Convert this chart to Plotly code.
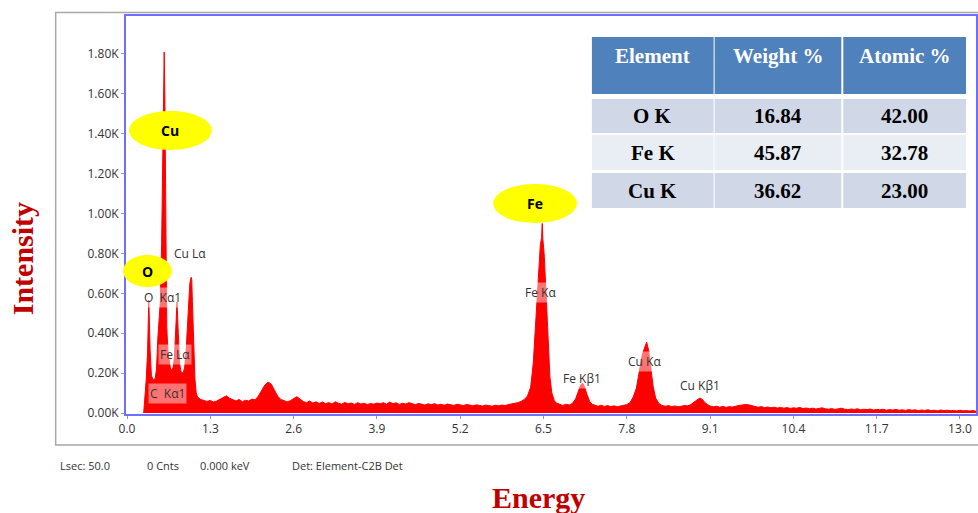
import plotly.graph_objects as go

# ---- EDS spectrum (energy in keV, intensity in counts), by region ----
# L-line cluster (O, Cu L, Fe L)
low_e = [0.26, 0.28, 0.30, 0.32, 0.34, 0.36, 0.38, 0.40, 0.42, 0.44,
         0.46, 0.48, 0.50, 0.52, 0.54, 0.56, 0.57, 0.58, 0.59, 0.60,
         0.62, 0.64, 0.66, 0.68, 0.70, 0.72, 0.74, 0.76, 0.78, 0.80,
         0.82, 0.84, 0.86, 0.88, 0.90, 0.92, 0.94, 0.96, 0.98, 1.00,
         1.01, 1.02, 1.04, 1.06, 1.08]
low_c = [0, 80, 170, 300, 566, 320, 190, 170, 165, 175,
         220, 370, 450, 560, 850, 1350, 1750, 1810, 1600, 1100,
         430, 300, 250, 220, 215, 230, 280, 420, 556, 400,
         250, 210, 200, 205, 230, 300, 430, 570, 650, 680,
         670, 560, 330, 170, 100]

# background 1.1 - 6.2 keV (incl. the small 2.2 keV bump)
mid_e = [1.10, 1.15, 1.20, 1.25, 1.30, 1.35, 1.40, 1.45, 1.50, 1.55,
         1.60, 1.65, 1.70, 1.75, 1.80, 1.85, 1.90, 1.95, 2.00, 2.05,
         2.10, 2.15, 2.20, 2.25, 2.30, 2.35, 2.40, 2.45, 2.50, 2.55,
         2.60, 2.65, 2.70, 2.75, 2.80, 2.85, 2.90, 2.95, 3.00, 3.05,
         3.10, 3.15, 3.20, 3.25, 3.30, 3.35, 3.40, 3.45, 3.50, 3.55,
         3.60, 3.65, 3.70, 3.75, 3.80, 3.85, 3.90, 3.95, 4.00, 4.05,
         4.10, 4.15, 4.20, 4.25, 4.30, 4.35, 4.40, 4.45, 4.50, 4.55,
         4.60, 4.65, 4.70, 4.75, 4.80, 4.85, 4.90, 4.95, 5.00, 5.05,
         5.10, 5.15, 5.20, 5.25, 5.30, 5.35, 5.40, 5.45, 5.50, 5.55,
         5.60, 5.65, 5.70, 5.75, 5.80, 5.85, 5.90, 5.95, 6.00, 6.05,
         6.10, 6.15, 6.20]
mid_c = [80, 68, 62, 58, 63, 55, 60, 68, 80, 86,
         74, 66, 60, 68, 57, 64, 60, 70, 66, 85,
         115, 140, 155, 145, 115, 85, 68, 60, 56, 62,
         70, 82, 70, 58, 52, 60, 50, 56, 48, 55,
         47, 52, 45, 56, 49, 44, 53, 46, 50, 43,
         52, 45, 49, 42, 48, 44, 50, 46, 52, 44,
         55, 47, 51, 43, 49, 45, 52, 46, 42, 48,
         44, 40, 46, 42, 47, 40, 44, 39, 45, 41,
         38, 44, 40, 37, 43, 39, 36, 41, 38, 35,
         40, 37, 34, 39, 36, 40, 37, 42, 45, 48,
         52, 58, 68]

# K-line region 6.25 - 9.10 keV (Fe Ka, Fe Kb, Cu Ka, Cu Kb)
k_e = [6.25, 6.30, 6.34, 6.38, 6.42, 6.45, 6.47, 6.48, 6.49, 6.51,
       6.54, 6.57, 6.60, 6.63, 6.67, 6.70, 6.75, 6.80, 6.85, 6.90,
       6.95, 7.00, 7.04, 7.08, 7.11, 7.14, 7.18, 7.22, 7.26, 7.30,
       7.35, 7.40, 7.45, 7.50, 7.55, 7.60, 7.65, 7.70, 7.75, 7.80,
       7.85, 7.90, 7.95, 8.00, 8.04, 8.08, 8.11, 8.14, 8.17, 8.21,
       8.25, 8.30, 8.35, 8.40, 8.45, 8.50, 8.55, 8.60, 8.65, 8.70,
       8.75, 8.80, 8.85, 8.90, 8.94, 8.98, 9.02, 9.06, 9.10]
k_c = [85, 130, 250, 480, 700, 840, 880, 950, 870, 800,
       600, 350, 180, 100, 62, 50, 42, 38, 44, 40,
       48, 70, 105, 140, 150, 132, 92, 58, 44, 38,
       34, 39, 33, 37, 32, 36, 31, 35, 38, 42,
       52, 80, 125, 215, 290, 330, 355, 315, 235, 135,
       75, 48, 38, 34, 37, 32, 35, 31, 34, 38,
       36, 42, 55, 66, 75, 68, 52, 42, 35]

# high-energy tail 9.15 - 13.30 keV
tail_e = [9.15, 9.20, 9.25, 9.30, 9.35, 9.40, 9.45, 9.50, 9.55, 9.60,
          9.65, 9.70, 9.75, 9.80, 9.85, 9.90, 9.95, 10.00, 10.05, 10.10,
          10.15, 10.20, 10.25, 10.30, 10.35, 10.40, 10.45, 10.50, 10.55, 10.60,
          10.65, 10.70, 10.75, 10.80, 10.85, 10.90, 10.95, 11.00, 11.05, 11.10,
          11.15, 11.20, 11.25, 11.30, 11.35, 11.40, 11.45, 11.50, 11.55, 11.60,
          11.65, 11.70, 11.75, 11.80, 11.85, 11.90, 11.95, 12.00, 12.05, 12.10,
          12.15, 12.20, 12.25, 12.30, 12.35, 12.40, 12.45, 12.50, 12.55, 12.60,
          12.65, 12.70, 12.75, 12.80, 12.85, 12.90, 12.95, 13.00, 13.05, 13.10,
          13.15, 13.20, 13.25, 13.30]
tail_c = [31, 34, 29, 33, 28, 32, 30, 35, 38, 40,
          43, 41, 37, 33, 29, 32, 27, 30, 26, 29,
          25, 28, 24, 27, 23, 26, 24, 28, 22, 25,
          21, 24, 20, 23, 26, 21, 19, 22, 18, 21,
          24, 19, 17, 20, 18, 21, 16, 19, 17, 20,
          15, 18, 16, 19, 14, 17, 15, 18, 14, 16,
          13, 17, 14, 16, 12, 15, 13, 16, 12, 14,
          11, 15, 12, 14, 11, 13, 10, 14, 11, 12,
          10, 12, 9, 10]

energy_kev = low_e + mid_e + k_e + tail_e
counts = low_c + mid_c + k_c + tail_c

# Peak line labels
line_labels = ["Cu L\u03b1", "O  K\u03b11", "Fe L\u03b1", "C  K\u03b11",
               "Fe K\u03b1", "Fe K\u03b21", "Cu K\u03b1", "Cu K\u03b21"]
line_label_x = [0.98, 0.56, 0.75, 0.63, 6.45, 7.10, 8.08, 8.94]
line_label_y = [802, 581, 291, 100, 606, 175, 256, 140]

# Element callouts (yellow ellipses)
callout_text = ["Cu", "O", "Fe"]

# Quantification table
table_header = ["Element", "Weight %", "Atomic %"]
table_elements = ["O K", "Fe K", "Cu K"]
weight_pct = ["16.84", "45.87", "36.62"]
atomic_pct = ["42.00", "32.78", "23.00"]

x_tick_vals = [0.0, 1.3, 2.6, 3.9, 5.2, 6.5, 7.8, 9.1, 10.4, 11.7, 13.0]
y_tick_vals = [0, 200, 400, 600, 800, 1000, 1200, 1400, 1600, 1800]

# ---- page geometry (pixels) ----
W, H = 978, 513
PL, PR, PT, PB = 126, 978, 16, 414  # plot area edges


def px(xp):
    return (xp - PL) / (PR - PL)


def py(yp):
    return (PB - yp) / (PB - PT)


fig = go.Figure()
fig.add_trace(go.Scatter(
    x=energy_kev, y=counts, mode="lines",
    line=dict(color="#ff0000", width=1),
    fill="tozeroy", fillcolor="#ff0000",
    hoverinfo="skip", showlegend=False,
))

sans = "Open Sans, Arial, sans-serif"
serif = "Liberation Serif, Times New Roman, serif"
tick_font = dict(family=sans, size=12, color="#333333")
axis_blue = "#6f6fff"

fig.update_xaxes(
    range=[-0.016, 13.25], tickvals=x_tick_vals,
    ticktext=[f"{v:.1f}" for v in x_tick_vals],
    showgrid=False, zeroline=False, showline=True, linecolor=axis_blue,
    linewidth=2, mirror=True, ticks="outside", ticklen=3, tickcolor="#999999",
    tickfont=tick_font,
)
fig.update_yaxes(
    range=[-5, 1990], tickvals=y_tick_vals,
    ticktext=[f"{v/1000:.2f}K" for v in y_tick_vals],
    showgrid=False, zeroline=False, showline=True, linecolor=axis_blue,
    linewidth=2, mirror=True, ticks="outside", ticklen=3, tickcolor="#999999",
    tickfont=tick_font,
)

shapes = []
annotations = []


def note(x, y, text, font, xref="paper", yref="paper", xanchor="center", **kw):
    annotations.append(dict(x=x, y=y, xref=xref, yref=yref, text=text,
                            showarrow=False, xanchor=xanchor, yanchor="middle",
                            font=font, **kw))


# grey outer frame of the spectrum panel
shapes.append(dict(type="rect", xref="paper", yref="paper",
                   x0=px(55.5), x1=px(990), y0=py(445), y1=py(12.5),
                   line=dict(color="#a8a8a8", width=1.5), layer="below"))

# peak line labels with translucent backing
for t, lx, ly in zip(line_labels, line_label_x, line_label_y):
    note(lx, ly, t, dict(family=sans, size=12, color="#333333"),
         xref="x", yref="y", bgcolor="rgba(255,255,255,0.45)", borderpad=1)

# yellow element callouts (pixel boxes of ellipses)
callout_boxes = [(129, 212, 111, 150), (123, 172, 255, 287), (494, 578, 184, 223)]
for t, (x0, x1, y0, y1) in zip(callout_text, callout_boxes):
    shapes.append(dict(type="circle", xref="paper", yref="paper",
                       x0=px(x0), x1=px(x1), y0=py(y1), y1=py(y0),
                       fillcolor="#ffff00", line=dict(width=0), layer="above"))
    note(px((x0 + x1) / 2), py((y0 + y1) / 2), f"<b>{t}</b>",
         dict(family=sans, size=14, color="#000000"))

# quantification table
col_edges = [(593, 715), (716, 843), (845, 968)]
header_rows = (37, 94)
body_rows = [(99, 133), (135, 170), (173, 208)]
row_fill = ["#d0d8e8", "#e9edf4", "#d0d8e8"]

for (cx0, cx1), h in zip(col_edges, table_header):
    shapes.append(dict(type="rect", xref="paper", yref="paper",
                       x0=px(cx0), x1=px(cx1), y0=py(header_rows[1]),
                       y1=py(header_rows[0]), fillcolor="#4f81bd",
                       line=dict(width=0), layer="above"))
    note(px((cx0 + cx1) / 2), py(56), f"<b>{h}</b>",
         dict(family=serif, size=21, color="#ffffff"))

columns = [table_elements, weight_pct, atomic_pct]
for ri, (ry0, ry1) in enumerate(body_rows):
    for ci, (cx0, cx1) in enumerate(col_edges):
        shapes.append(dict(type="rect", xref="paper", yref="paper",
                           x0=px(cx0), x1=px(cx1), y0=py(ry1), y1=py(ry0),
                           fillcolor=row_fill[ri], line=dict(width=0),
                           layer="above"))
        note(px((cx0 + cx1) / 2), py((ry0 + ry1) / 2),
             f"<b>{columns[ci][ri]}</b>",
             dict(family=serif, size=21, color="#000000"))

# status line under the panel
status = [("Lsec: 50.0", 58), ("0 Cnts", 145), ("0.000 keV", 198),
          ("Det: Element-C2B Det", 290)]
for t, xl in status:
    note(px(xl), py(465), t, dict(family=sans, size=11, color="#333333"),
         xanchor="left")

# axis titles
title_font = dict(family=serif, size=30, color="#c00000")
note(px(539), py(497), "<b>Energy</b>", title_font)
note(px(22), py(259), "<b>Intensity</b>", title_font, textangle=-90)

fig.update_layout(
    width=W, height=H,
    margin=dict(l=PL, r=W - PR, t=PT, b=H - PB),
    paper_bgcolor="#ffffff", plot_bgcolor="#ffffff",
    shapes=shapes, annotations=annotations, showlegend=False,
)

fig.write_html("out.html")
